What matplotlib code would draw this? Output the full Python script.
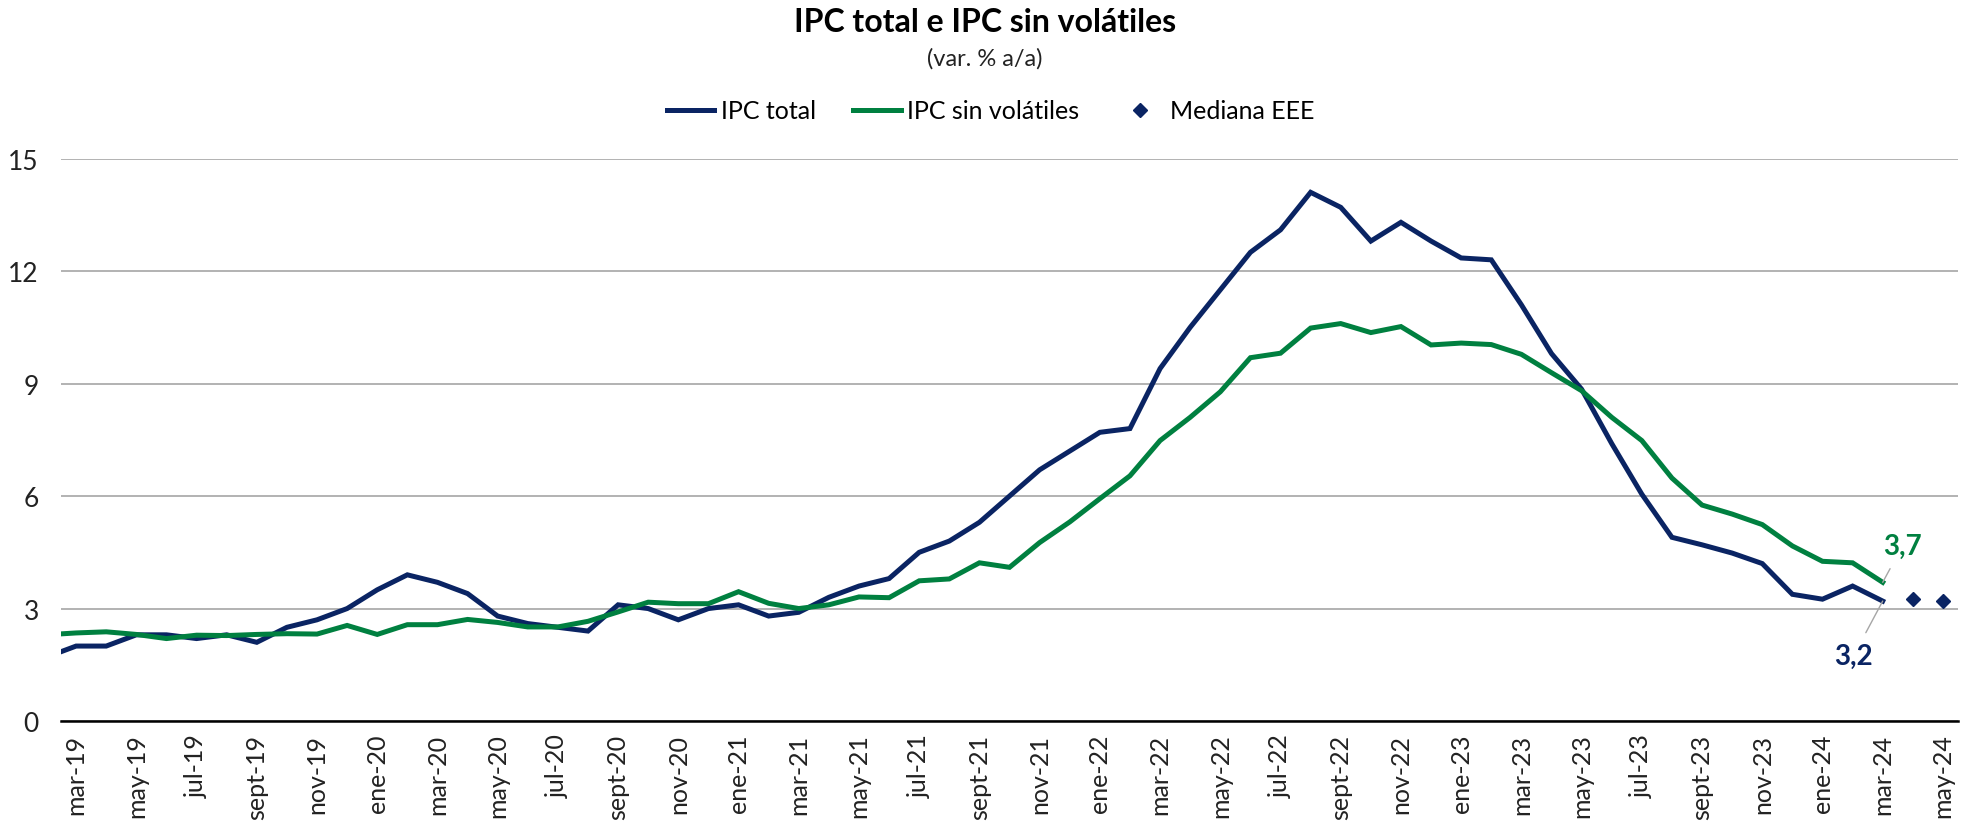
import numpy as np
import matplotlib
matplotlib.use("Agg")
import matplotlib.pyplot as plt
from matplotlib.lines import Line2D

plt.rcParams['font.family'] = ['Lato', 'DejaVu Sans']

# months feb-19 .. may-24 (feb-19 sits just outside the left edge)
month_names = ['ene', 'feb', 'mar', 'abr', 'may', 'jun', 'jul', 'ago', 'sept', 'oct', 'nov', 'dic']
months = []
for yy in range(19, 25):
    for m in month_names:
        months.append(f"{m}-{yy}")
months = months[1:months.index('may-24') + 1]

ipc_total = [1.7,
             2.0, 2.0, 2.3, 2.3, 2.2, 2.3, 2.1, 2.5, 2.7, 3.0,
             3.5, 3.9, 3.7, 3.4, 2.8, 2.6, 2.5, 2.4, 3.1, 3.0, 2.7, 3.0,
             3.1, 2.8, 2.9, 3.3, 3.6, 3.8, 4.5, 4.8, 5.3, 6.0, 6.7, 7.2,
             7.7, 7.8, 9.4, 10.5, 11.5, 12.5, 13.1, 14.1, 13.7, 12.8, 13.3, 12.8,
             12.35, 12.3, 11.1, 9.8, 8.85, 7.4, 6.05, 4.9, 4.7, 4.48, 4.2, 3.38,
             3.25, 3.6, 3.2]

ipc_sin_volatiles = [2.3,
                     2.35, 2.38, 2.31, 2.2, 2.29, 2.28, 2.31, 2.33, 2.32, 2.55,
                     2.31, 2.57, 2.57, 2.71, 2.63, 2.51, 2.51, 2.66, 2.91, 3.17, 3.13, 3.13,
                     3.45, 3.14, 3.0, 3.1, 3.31, 3.29, 3.74, 3.79, 4.22, 4.1, 4.76, 5.31,
                     5.93, 6.54, 7.48, 8.1, 8.78, 9.69, 9.81, 10.48, 10.6, 10.36, 10.52, 10.03,
                     10.08, 10.04, 9.78, 9.29, 8.81, 8.1, 7.48, 6.48, 5.76, 5.52, 5.24, 4.67,
                     4.26, 4.22, 3.7]

mediana_months = ['abr-24', 'may-24']
mediana_eee = [3.25, 3.2]

BLUE = '#0A2463'
GREEN = '#008040'
GRAY = '#A6A6A6'

# x position 0 = mar-19
x_all = np.arange(len(months)) - 1
x_line = x_all[:len(ipc_total)]
x_med = [x_all[months.index(m)] for m in mediana_months]

fig = plt.figure(figsize=(19.7, 8.29), dpi=100)
ax = fig.add_axes([0.031, 0.129, 0.9629, 0.6785])

ax.plot(x_line, ipc_total, color=BLUE, lw=3.6, solid_joinstyle='miter', zorder=3)
ax.plot(x_line, ipc_sin_volatiles, color=GREEN, lw=3.6, solid_joinstyle='miter', zorder=3)
ax.plot(x_med, mediana_eee, linestyle='none', marker='D', ms=7.5, color=BLUE, zorder=4)

ax.set_xlim(-0.5, len(months) - 1.5)
ax.set_ylim(0, 15)
ax.set_yticks([0, 3, 6, 9, 12, 15])
ax.yaxis.grid(True, color=GRAY, lw=1.2)
ax.set_axisbelow(True)

tick_pos = x_all[1::2]
ax.set_xticks(tick_pos)
ax.set_xticklabels(months[1::2], rotation=90, fontsize=18, color='#222222')
ax.tick_params(axis='x', length=0, pad=9)
ax.tick_params(axis='y', length=0, pad=16, labelsize=19, labelcolor='#222222')

for s in ['top', 'right', 'left']:
    ax.spines[s].set_visible(False)
ax.spines['bottom'].set_color('black')
ax.spines['bottom'].set_linewidth(1.8)

# end labels
last = len(ipc_total) - 1
ax.annotate(f"{ipc_sin_volatiles[-1]:.1f}".replace('.', ','),
            xy=(x_line[last], ipc_sin_volatiles[-1]), xytext=(x_line[last] + 0.66, 4.68),
            ha='center', va='center', fontsize=20, fontweight='bold', color=GREEN,
            arrowprops=dict(arrowstyle='-', color=GRAY, lw=1, shrinkA=6, shrinkB=0))
ax.annotate(f"{ipc_total[-1]:.1f}".replace('.', ','),
            xy=(x_line[last], ipc_total[-1]), xytext=(x_line[last] - 0.97, 1.74),
            ha='center', va='center', fontsize=20, fontweight='bold', color=BLUE,
            arrowprops=dict(arrowstyle='-', color=GRAY, lw=1, shrinkA=6, shrinkB=0))

fig.text(0.5, 0.973, 'IPC total e IPC sin volátiles', ha='center', va='center',
         fontsize=23, fontweight='bold', color='black')
fig.text(0.5, 0.929, '(var. % a/a)', ha='center', va='center', fontsize=17, color='#222222')

handles = [Line2D([], [], color=BLUE, lw=3.6),
           Line2D([], [], color=GREEN, lw=3.6),
           Line2D([], [], color=BLUE, marker='D', ms=7.5, linestyle='none')]
fig.legend(handles, ['IPC total', 'IPC sin volátiles', 'Mediana EEE'],
           loc='center', bbox_to_anchor=(0.503, 0.865), ncol=3, frameon=False,
           fontsize=18, handlelength=1.9, handletextpad=0.25, columnspacing=1.5)

fig.savefig('out.png', dpi=100)
